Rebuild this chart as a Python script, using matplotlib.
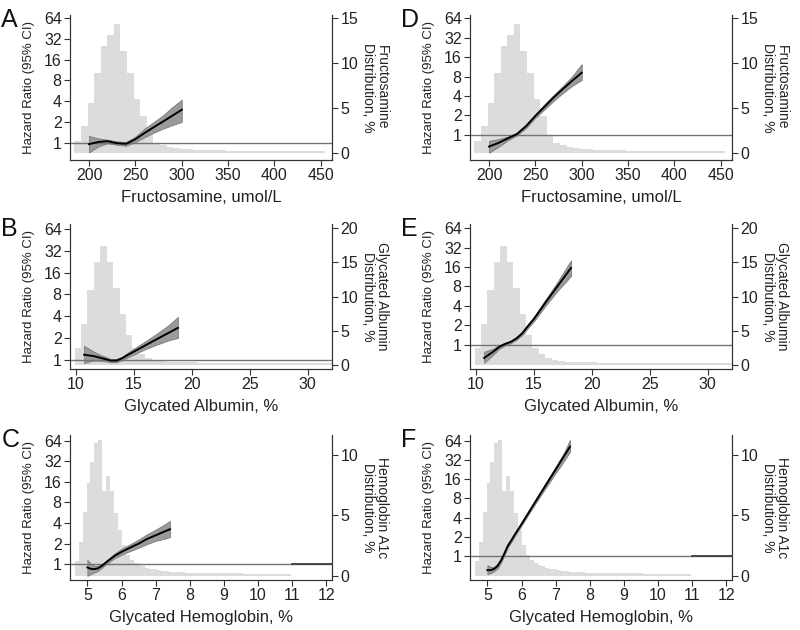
import numpy as np
import matplotlib.pyplot as plt
from matplotlib.ticker import FixedLocator, NullLocator

plt.rcParams['font.family'] = ['Liberation Sans', 'DejaVu Sans']

# ---- fructosamine (panels A, D) ----
fru_x = [200, 210, 220, 230, 240, 250, 260, 270, 280, 290, 300]
fru_hr_A = [0.95, 1.02, 1.05, 0.98, 0.96, 1.12, 1.38, 1.68, 2.03, 2.47, 3.0]
fru_lo_A = [0.72, 0.88, 0.98, 0.93, 0.90, 1.02, 1.20, 1.40, 1.60, 1.80, 2.0]
fru_hi_A = [1.25, 1.15, 1.10, 1.04, 1.02, 1.22, 1.60, 2.00, 2.50, 3.30, 4.2]
fru_hr_D = [0.66, 0.75, 0.88, 1.03, 1.37, 1.97, 2.75, 3.84, 5.2, 6.96, 9.2]
fru_lo_D = [0.53, 0.65, 0.82, 0.98, 1.28, 1.85, 2.50, 3.40, 4.5, 5.80, 7.1]
fru_hi_D = [0.81, 0.86, 0.94, 1.08, 1.45, 2.10, 3.00, 4.20, 5.8, 8.20, 12.5]
fru_bin_start, fru_bin_w = 184.2, 7.1
fru_pct = [1.4, 3.0, 5.6, 8.9, 11.9, 13.2, 14.4, 11.4, 8.9, 6.0, 4.1, 2.0,
           1.2, 0.9, 0.7, 0.6, 0.5, 0.45, 0.4, 0.38, 0.35, 0.33, 0.32, 0.3,
           0.3, 0.3, 0.28, 0.28, 0.27, 0.27, 0.26, 0.26, 0.25, 0.25, 0.25,
           0.24, 0.24, 0.24]

# ---- glycated albumin (panels B, E) ----
ga_x_B = [10.7, 11.5, 12.0, 12.5, 13.0, 13.5, 14.0, 14.5, 15.0, 16.0, 17.0, 18.0, 18.8]
ga_hr_B = [1.17, 1.12, 1.07, 1.02, 0.97, 0.97, 1.05, 1.17, 1.29, 1.58, 1.93, 2.35, 2.75]
ga_lo_B = [0.90, 0.97, 0.97, 0.95, 0.92, 0.92, 0.99, 1.08, 1.18, 1.40, 1.62, 1.85, 2.0]
ga_hi_B = [1.55, 1.30, 1.18, 1.10, 1.02, 1.02, 1.10, 1.26, 1.42, 1.80, 2.30, 3.00, 3.9]
ga_x_E = [10.7, 11.5, 12.0, 12.5, 13.0, 13.5, 14.0, 14.5, 15.0, 16.0, 17.0, 18.2]
ga_hr_E = [0.62, 0.78, 0.92, 1.02, 1.10, 1.25, 1.50, 1.95, 2.5, 4.5, 7.9, 15.5]
ga_lo_E = [0.52, 0.70, 0.86, 0.97, 1.05, 1.19, 1.42, 1.82, 2.3, 4.0, 6.7, 11.6]
ga_hi_E = [0.77, 0.87, 0.98, 1.07, 1.15, 1.31, 1.60, 2.10, 2.7, 5.0, 9.2, 20.4]
ga_bin_start, ga_bin_w = 9.87, 0.555
ga_pct = [2.5, 6.0, 11.0, 15.1, 17.4, 15.1, 11.2, 7.4, 4.3, 2.5, 1.6, 1.0,
          0.7, 0.55, 0.45, 0.4, 0.38, 0.35, 0.33, 0.32, 0.3, 0.3, 0.3, 0.28,
          0.28, 0.27, 0.27, 0.26, 0.26, 0.25, 0.25, 0.25, 0.24, 0.24, 0.24,
          0.23, 0.23, 0.23, 0.22, 0.22]

# ---- hemoglobin A1c (panels C, F) ----
a1c_x = [5.0, 5.1, 5.2, 5.3, 5.4, 5.5, 5.6, 5.7, 5.8, 6.0, 6.25, 6.5, 6.75, 7.0, 7.25, 7.42]
a1c_hr_C = [0.90, 0.86, 0.85, 0.87, 0.93, 1.02, 1.12, 1.22, 1.33, 1.52, 1.75, 2.0, 2.35, 2.65, 3.0, 3.25]
a1c_lo_C = [0.68, 0.72, 0.76, 0.80, 0.87, 0.96, 1.05, 1.14, 1.23, 1.38, 1.56, 1.75, 1.98, 2.2, 2.35, 2.5]
a1c_hi_C = [1.16, 1.02, 0.95, 0.95, 0.99, 1.08, 1.19, 1.31, 1.44, 1.68, 1.96, 2.3, 2.75, 3.2, 3.8, 4.3]
a1c_hr_F = [0.60, 0.60, 0.63, 0.70, 0.85, 1.10, 1.45, 1.75, 2.15, 3.16, 5.2, 8.5, 13.9, 22.6, 37, 51.6]
a1c_lo_F = [0.52, 0.54, 0.58, 0.64, 0.79, 1.03, 1.37, 1.66, 2.04, 3.0, 4.9, 7.9, 12.6, 20, 31, 43]
a1c_hi_F = [0.72, 0.67, 0.68, 0.76, 0.91, 1.17, 1.53, 1.85, 2.27, 3.35, 5.5, 9.2, 15.2, 25, 42, 66]
a1c_bin_start, a1c_bin_w = 4.63, 0.115
a1c_pct = [1.2, 2.8, 5.3, 7.7, 9.4, 11.0, 11.2, 7.0, 8.3, 7.0, 5.2, 3.8, 2.6,
           1.7, 1.3, 1.1, 0.9, 0.8, 0.7, 0.6, 0.55, 0.5, 0.45, 0.4, 0.36,
           0.33, 0.3, 0.3, 0.28, 0.27, 0.26, 0.25, 0.25, 0.24, 0.24, 0.23,
           0.23, 0.22, 0.22, 0.22, 0.21, 0.21, 0.21, 0.2, 0.2, 0.2, 0.2,
           0.2, 0.19, 0.19, 0.19, 0.18, 0.18, 0.18, 0.18]

hr_ticks = [1, 2, 4, 8, 16, 32, 64]

fig = plt.figure(figsize=(8, 6.3), dpi=100)


def panel(rect, letter, x, hr, lo, hi, bstart, bw, pct, xlim, xticks, ylim,
          rlim, rticks, xlabel, rlabel, dark_ref=None):
    ax = fig.add_axes(rect)
    ax2 = ax.twinx()
    ax.set_zorder(ax2.get_zorder() + 1)
    ax.patch.set_visible(False)

    edges = bstart + bw * np.arange(len(pct))
    ax2.bar(edges, pct, width=bw, align='edge', color='#dcdcdc', linewidth=0)
    ax2.set_ylim(*rlim)
    ax2.yaxis.set_major_locator(FixedLocator(rticks))
    ax2.set_ylabel(rlabel, rotation=270, fontsize=10, labelpad=22,
                   color='#222222', linespacing=1.0)

    ax.axhline(1, color='#747474', lw=1.0)
    if dark_ref is not None:
        ax.plot([dark_ref, xlim[1]], [1, 1], color='#404040', lw=1.3)
    ax.fill_between(x, lo, hi, color='#9a9a9a', edgecolor='#7a7a7a', lw=0.6)
    ax.plot(x, hr, color='black', lw=1.4)

    ax.set_yscale('log', base=2)
    ax.set_ylim(*ylim)
    ax.yaxis.set_major_locator(FixedLocator(hr_ticks))
    ax.yaxis.set_minor_locator(NullLocator())
    ax.set_yticklabels([str(t) for t in hr_ticks])
    ax.set_xlim(*xlim)
    ax.set_xticks(xticks)
    ax.set_ylabel('Hazard Ratio (95% CI)', fontsize=9.5, color='#222222',
                  labelpad=6)
    ax.set_xlabel(xlabel, fontsize=12, color='#222222', labelpad=5)

    for a in (ax, ax2):
        a.spines['top'].set_visible(False)
        for s in a.spines.values():
            s.set_color('#333333')
            s.set_linewidth(0.8)
        a.tick_params(length=4, width=0.8, color='#333333', labelsize=11.5,
                      labelcolor='#222222', pad=2)
    ax.text(-0.262, 1.05, letter, transform=ax.transAxes, fontsize=18,
            va='top', ha='left', color='#111111')
    return ax


W = 262 / 800
H = 145 / 630
col = [70 / 800, 470 / 800]
row = [(630 - 160) / 630, (630 - 369) / 630, (630 - 580) / 630]

fru_xlim, fru_ticks = (179.5, 462), [200, 250, 300, 350, 400, 450]
ga_xlim, ga_ticks = (9.48, 32.1), [10, 15, 20, 25, 30]
a1c_xlim, a1c_ticks = (4.49, 12.17), [5, 6, 7, 8, 9, 10, 11, 12]

panel([col[0], row[0], W, H], 'A', fru_x, fru_hr_A, fru_lo_A, fru_hi_A,
      fru_bin_start, fru_bin_w, fru_pct, fru_xlim, fru_ticks,
      (2 ** -0.84, 2 ** 6.16), (-0.74, 15.37), [0, 5, 10, 15],
      'Fructosamine, umol/L', 'Fructosamine\nDistribution, %')
panel([col[1], row[0], W, H], 'D', fru_x, fru_hr_D, fru_lo_D, fru_hi_D,
      fru_bin_start, fru_bin_w, fru_pct, fru_xlim, fru_ticks,
      (2 ** -1.29, 2 ** 6.17), (-0.74, 15.37), [0, 5, 10, 15],
      'Fructosamine, umol/L', 'Fructosamine\nDistribution, %')
panel([col[0], row[1], W, H], 'B', ga_x_B, ga_hr_B, ga_lo_B, ga_hi_B,
      ga_bin_start, ga_bin_w, ga_pct, ga_xlim, ga_ticks,
      (2 ** -0.43, 2 ** 6.23), (-0.63, 20.65), [0, 5, 10, 15, 20],
      'Glycated Albumin, %', 'Glycated Albumin\nDistribution, %')
panel([col[1], row[1], W, H], 'E', ga_x_E, ga_hr_E, ga_lo_E, ga_hi_E,
      ga_bin_start, ga_bin_w, ga_pct, ga_xlim, ga_ticks,
      (2 ** -1.26, 2 ** 6.22), (-0.63, 20.65), [0, 5, 10, 15, 20],
      'Glycated Albumin, %', 'Glycated Albumin\nDistribution, %')
panel([col[0], row[2], W, H], 'C', a1c_x, a1c_hr_C, a1c_lo_C, a1c_hi_C,
      a1c_bin_start, a1c_bin_w, a1c_pct, a1c_xlim, a1c_ticks,
      (2 ** -0.76, 2 ** 6.27), (-0.33, 11.65), [0, 5, 10],
      'Glycated Hemoglobin, %', 'Hemoglobin A1c\nDistribution, %', dark_ref=11)
panel([col[1], row[2], W, H], 'F', a1c_x, a1c_hr_F, a1c_lo_F, a1c_hi_F,
      a1c_bin_start, a1c_bin_w, a1c_pct, a1c_xlim, a1c_ticks,
      (2 ** -1.25, 2 ** 6.3), (-0.33, 11.65), [0, 5, 10],
      'Glycated Hemoglobin, %', 'Hemoglobin A1c\nDistribution, %', dark_ref=11)

fig.savefig('out.png', dpi=100)
